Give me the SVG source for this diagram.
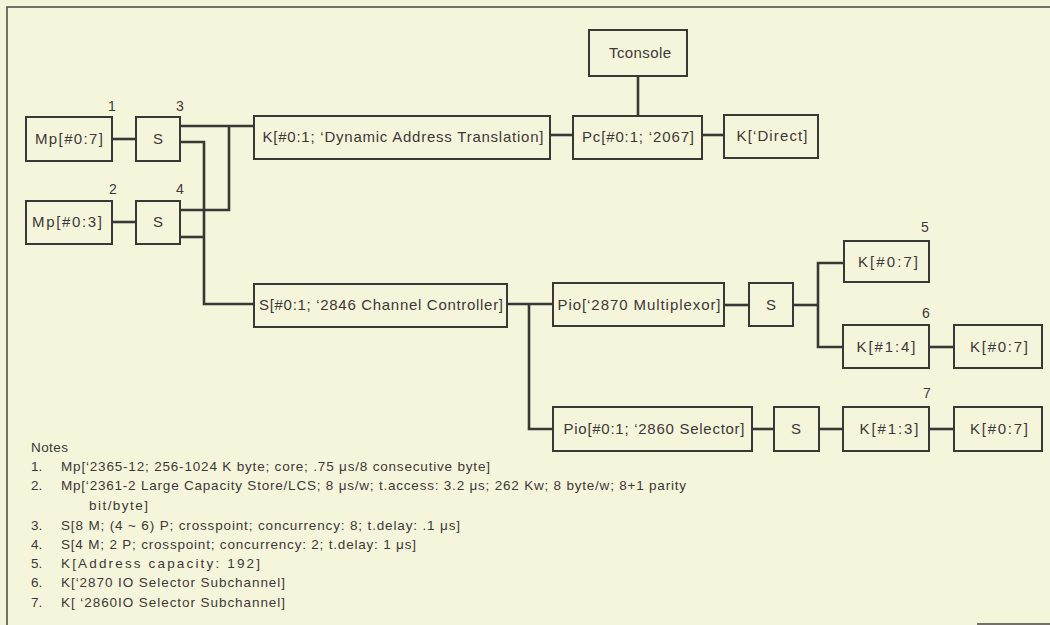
<svg xmlns="http://www.w3.org/2000/svg" width="1050" height="625" viewBox="0 0 1050 625">
<style>
.bg{fill:#f5f5dc}
.box{fill:#f5f5dc;stroke:#3d3636;stroke-width:2}
.c{fill:none;stroke:#3d3636;stroke-width:2.6;stroke-linejoin:miter}
.t{font-family:"Liberation Sans",Arial,sans-serif;font-size:15px;fill:#3d3838;text-anchor:middle}
.n{font-family:"Liberation Sans",Arial,sans-serif;font-size:14px;fill:#3d3838;text-anchor:middle}
.nt{font-family:"Liberation Sans",Arial,sans-serif;font-size:13.5px;fill:#3d3838}
.frame{fill:none;stroke:#4a4444;stroke-width:1.5}
</style>
<rect class="bg" x="0" y="0" width="1050" height="625"/>
<path class="frame" d="M1050,7 H7 V625"/>
<path class="frame" d="M977,624 H1050"/>

<g id="connectors">
<path class="c" d="M112,139 H136"/>
<path class="c" d="M112,222 H136"/>
<path class="c" d="M180,126 H254"/>
<path class="c" d="M229,126 V210 H180"/>
<path class="c" d="M180,142 H204 V304 H254"/>
<path class="c" d="M180,237 H204"/>
<path class="c" d="M550,135 H573"/>
<path class="c" d="M638,76 V116"/>
<path class="c" d="M702,135 H724"/>
<path class="c" d="M507,304 H553"/>
<path class="c" d="M529,304 V429 H553"/>
<path class="c" d="M724,305 H749"/>
<path class="c" d="M793,305 H818"/>
<path class="c" d="M844,263 H818 V347 H843"/>
<path class="c" d="M929,347 H954"/>
<path class="c" d="M752,429 H774"/>
<path class="c" d="M819,429 H843"/>
<path class="c" d="M929,429 H954"/>
</g>

<g id="mp1"><rect class="box" x="26" y="117" width="86" height="44"/><text class="t" x="69" y="144" textLength="68" lengthAdjust="spacing">Mp[#0:7]</text><text class="n" x="112" y="111">1</text></g>
<g id="s1"><rect class="box" x="136" y="117" width="44" height="44"/><text class="t" x="158" y="144">S</text><text class="n" x="180" y="111">3</text></g>
<g id="mp2"><rect class="box" x="26" y="201" width="86" height="43"/><text class="t" x="67" y="227" textLength="70" lengthAdjust="spacing">Mp[#0:3]</text><text class="n" x="113" y="194">2</text></g>
<g id="s2"><rect class="box" x="136" y="201" width="44" height="43"/><text class="t" x="158" y="227">S</text><text class="n" x="180" y="194">4</text></g>
<g id="kdat"><rect class="box" x="254" y="116" width="296" height="43"/><text class="t" x="403" y="142" textLength="281" lengthAdjust="spacing">K[#0:1; ‘Dynamic Address Translation]</text></g>
<g id="tconsole"><rect class="box" x="589" y="30" width="98" height="46"/><text class="t" x="640" y="58" textLength="62" lengthAdjust="spacing">Tconsole</text></g>
<g id="pc"><rect class="box" x="573" y="116" width="129" height="43"/><text class="t" x="638" y="142" textLength="112" lengthAdjust="spacing">Pc[#0:1; ‘2067]</text></g>
<g id="kdirect"><rect class="box" x="724" y="115" width="94" height="43"/><text class="t" x="772" y="141" textLength="71" lengthAdjust="spacing">K[‘Direct]</text></g>
<g id="scc"><rect class="box" x="254" y="284" width="253" height="43"/><text class="t" x="381" y="310" textLength="244" lengthAdjust="spacing">S[#0:1; ‘2846 Channel Controller]</text></g>
<g id="piomux"><rect class="box" x="553" y="283" width="171" height="43"/><text class="t" x="639" y="310" textLength="163" lengthAdjust="spacing">Pio[‘2870 Multiplexor]</text></g>
<g id="smux"><rect class="box" x="749" y="283" width="44" height="43"/><text class="t" x="771" y="310">S</text></g>
<g id="k5"><rect class="box" x="844" y="241" width="85" height="41"/><text class="t" x="888" y="267" textLength="60" lengthAdjust="spacing">K[#0:7]</text><text class="n" x="925" y="232">5</text></g>
<g id="k6"><rect class="box" x="843" y="325" width="86" height="43"/><text class="t" x="886" y="352" textLength="59" lengthAdjust="spacing">K[#1:4]</text><text class="n" x="926" y="318">6</text></g>
<g id="k6b"><rect class="box" x="954" y="325" width="88" height="43"/><text class="t" x="999" y="352" textLength="58" lengthAdjust="spacing">K[#0:7]</text></g>
<g id="piosel"><rect class="box" x="553" y="407" width="199" height="44"/><text class="t" x="654" y="434" textLength="181" lengthAdjust="spacing">Pio[#0:1; ‘2860 Selector]</text></g>
<g id="ssel"><rect class="box" x="774" y="407" width="45" height="44"/><text class="t" x="796" y="434">S</text></g>
<g id="k7"><rect class="box" x="843" y="407" width="86" height="44"/><text class="t" x="889" y="434" textLength="59" lengthAdjust="spacing">K[#1:3]</text><text class="n" x="927" y="398">7</text></g>
<g id="k7b"><rect class="box" x="954" y="407" width="88" height="44"/><text class="t" x="999" y="434" textLength="58" lengthAdjust="spacing">K[#0:7]</text></g>

<g id="notes">
<text class="nt" x="31" y="452" textLength="37" lengthAdjust="spacing">Notes</text>
<text class="nt" x="31" y="471">1.</text>
<text class="nt" x="61" y="471" textLength="429" lengthAdjust="spacing">Mp[‘2365-12; 256-1024 K byte; core; .75 μs/8 consecutive byte]</text>
<text class="nt" x="31" y="490">2.</text>
<text class="nt" x="61" y="490" textLength="625" lengthAdjust="spacing">Mp[‘2361-2 Large Capacity Store/LCS; 8 μs/w; t.access: 3.2 μs; 262 Kw; 8 byte/w; 8+1 parity</text>
<text class="nt" x="89" y="510" textLength="59" lengthAdjust="spacing">bit/byte]</text>
<text class="nt" x="31" y="530">3.</text>
<text class="nt" x="61" y="530" textLength="399" lengthAdjust="spacing">S[8 M; (4 ~ 6) P; crosspoint; concurrency: 8; t.delay: .1 μs]</text>
<text class="nt" x="31" y="549">4.</text>
<text class="nt" x="61" y="549" textLength="355" lengthAdjust="spacing">S[4 M; 2 P; crosspoint; concurrency: 2; t.delay: 1 μs]</text>
<text class="nt" x="31" y="568">5.</text>
<text class="nt" x="61" y="568" textLength="199" lengthAdjust="spacing">K[Address capacity: 192]</text>
<text class="nt" x="31" y="587">6.</text>
<text class="nt" x="61" y="587" textLength="224" lengthAdjust="spacing">K[‘2870 IO Selector Subchannel]</text>
<text class="nt" x="31" y="607">7.</text>
<text class="nt" x="61" y="607" textLength="224" lengthAdjust="spacing">K[ ‘2860IO Selector Subchannel]</text>
</g>
</svg>
